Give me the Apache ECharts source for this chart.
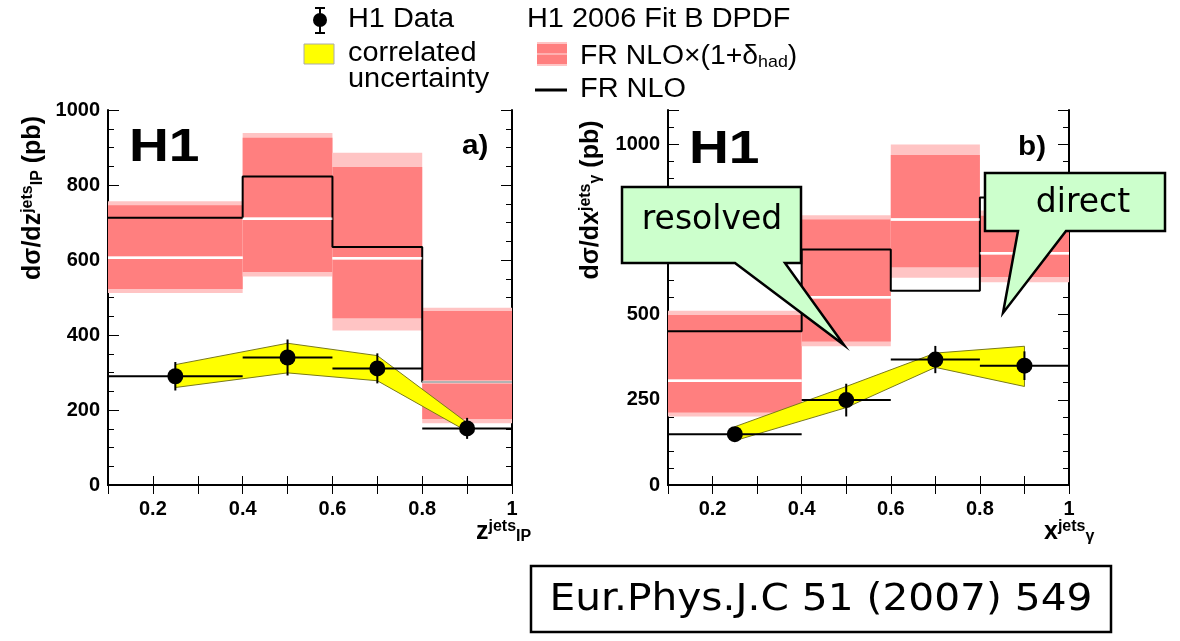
<!DOCTYPE html>
<html><head><meta charset="utf-8">
<script src="https://cdn.jsdelivr.net/npm/echarts@6/dist/echarts.min.js"></script>
<style>html,body{margin:0;padding:0;background:#fff}#c{width:1180px;height:641px}</style>
</head><body><div id="c"></div>
<script>
// ---------- data ----------
const binEdges = [0.1, 0.4, 0.6, 0.8, 1.0];
const binCenters = [0.25, 0.5, 0.7, 0.9];
const xTickLabels = ['0.2', '0.4', '0.6', '0.8', '1'];

// panel a) z_IP^jets
const zData = [290, 340, 311, 151];
const zErr = [38, 48, 40, 28];
const zCorrLow = [260, 299, 278, 143];
const zCorrHigh = [321, 378, 345, 166];
const zHadOuterLow = [512, 556, 412, 165];
const zHadOuterHigh = [757, 939, 886, 473];
const zHadInnerLow = [523, 568, 445, 176];
const zHadInnerHigh = [746, 926, 848, 464];
const zHadCentral = [606, 710, 605, 275];
const zNlo = [713, 823, 635, 275];

// panel b) x_gamma^jets
const xData = [149, 249, 368, 350];
const xErr = [12, 48, 40, 42];
const xCorrLow = [130, 227, 345, 289];
const xCorrHigh = [171, 289, 387, 407];
const xHadOuterLow = [201, 407, 608, 595];
const xHadOuterHigh = [511, 791, 999, 805];
const xHadInnerLow = [213, 421, 639, 610];
const xHadInnerHigh = [499, 779, 968, 790];
const xHadCentral = [306, 551, 779, 680];
const xNlo = [451, 691, 570, 843];

// ---------- helpers ----------
const FONT = 'Liberation Sans, Arial, sans-serif';
const panels = [
  {data: zData, err: zErr, cLo: zCorrLow, cHi: zCorrHigh, oLo: zHadOuterLow, oHi: zHadOuterHigh,
   iLo: zHadInnerLow, iHi: zHadInnerHigh, cen: zHadCentral, nlo: zNlo},
  {data: xData, err: xErr, cLo: xCorrLow, cHi: xCorrHigh, oLo: xHadOuterLow, oHi: xHadOuterHigh,
   iLo: xHadInnerLow, iHi: xHadInnerHigh, cen: xHadCentral, nlo: xNlo}
];

function bandSeries(p, idx) {
  const data = binCenters.map((c, i) => [binEdges[i], binEdges[i + 1], p.oLo[i], p.oHi[i], p.iLo[i], p.iHi[i]]);
  return {
    type: 'custom', coordinateSystem: 'cartesian2d', xAxisIndex: idx, yAxisIndex: idx, z: 1,
    silent: true, clip: true,
    data: data,
    encode: {x: [0, 1], y: [2, 3]},
    renderItem: (params, api) => {
      const a = api.coord([api.value(0), api.value(3)]);
      const b = api.coord([api.value(1), api.value(2)]);
      const c = api.coord([api.value(0), api.value(5)]);
      const d = api.coord([api.value(1), api.value(4)]);
      return {type: 'group', children: [
        {type: 'rect', shape: {x: a[0], y: a[1], width: b[0] - a[0], height: b[1] - a[1]}, style: {fill: '#ffc4c4'}},
        {type: 'rect', shape: {x: c[0], y: c[1], width: d[0] - c[0], height: d[1] - c[1]}, style: {fill: '#ff7f7f'}}
      ]};
    }
  };
}
function centralSeries(p, idx, opacity, z) {
  const data = binCenters.map((c, i) => [binEdges[i], binEdges[i + 1], p.cen[i]]);
  return {
    type: 'custom', coordinateSystem: 'cartesian2d', xAxisIndex: idx, yAxisIndex: idx, z: z, silent: true,
    data: data, encode: {x: [0, 1], y: 2},
    renderItem: (params, api) => {
      const a = api.coord([api.value(0), api.value(2)]);
      const b = api.coord([api.value(1), api.value(2)]);
      return {type: 'line', shape: {x1: a[0], y1: a[1], x2: b[0], y2: b[1]},
        style: {stroke: '#ffffff', lineWidth: 2.5, opacity: opacity}};
    }
  };
}
function nloSeries(p, idx) {
  const data = binEdges.map((e, i) => [e, p.nlo[Math.min(i, p.nlo.length - 1)]]);
  return {
    type: 'line', xAxisIndex: idx, yAxisIndex: idx, z: 3, step: 'end', symbol: 'none', silent: true,
    data: data, lineStyle: {color: '#000', width: 2}
  };
}
function corrSeries(p, idx) {
  return {
    type: 'custom', coordinateSystem: 'cartesian2d', xAxisIndex: idx, yAxisIndex: idx, z: 5, silent: true,
    data: [[binCenters[0], p.cLo[0]]],
    renderItem: (params, api) => {
      const pts = [];
      binCenters.forEach((c, i) => pts.push(api.coord([c, p.cHi[i]])));
      for (let i = binCenters.length - 1; i >= 0; i--) pts.push(api.coord([binCenters[i], p.cLo[i]]));
      return {type: 'polygon', shape: {points: pts}, style: {fill: '#ffff00', stroke: '#7a7a1a', lineWidth: 1}};
    }
  };
}
function barsSeries(p, idx) {
  const data = binCenters.map((c, i) => [c, p.data[i], p.err[i], binEdges[i], binEdges[i + 1]]);
  return {
    type: 'custom', coordinateSystem: 'cartesian2d', xAxisIndex: idx, yAxisIndex: idx, z: 6, silent: true,
    data: data, encode: {x: 0, y: 1},
    renderItem: (params, api) => {
      const x = api.value(0), y = api.value(1), e = api.value(2);
      const h0 = api.coord([api.value(3), y]), h1 = api.coord([api.value(4), y]);
      const v0 = api.coord([x, y - e]), v1 = api.coord([x, y + e]);
      return {type: 'group', children: [
        {type: 'line', shape: {x1: h0[0], y1: h0[1], x2: h1[0], y2: h1[1]}, style: {stroke: '#000', lineWidth: 2}},
        {type: 'line', shape: {x1: v0[0], y1: v0[1], x2: v1[0], y2: v1[1]}, style: {stroke: '#000', lineWidth: 2}}
      ]};
    }
  };
}
function pointSeries(p, idx) {
  return {
    type: 'scatter', xAxisIndex: idx, yAxisIndex: idx, z: 7, silent: true, symbol: 'circle', symbolSize: 16,
    itemStyle: {color: '#000', opacity: 1},
    data: binCenters.map((c, i) => [c, p.data[i]])
  };
}

const grids = [
  {left: 108, top: 110, width: 404, height: 375},
  {left: 668, top: 110, width: 401, height: 375}
];
const yMax = [1000, 1100];
const yInterval = [200, 250];
const ySplit = [4, 5];

const xAxes = [], yAxes = [];
[0, 1].forEach(g => {
  xAxes.push({
    type: 'value', gridIndex: g, position: 'bottom', min: 0.1, max: 1.0, interval: 0.1,
    axisLine: {lineStyle: {color: '#000', width: 2}},
    axisTick: {inside: true, length: 9, lineStyle: {color: '#000', width: 1}},
    splitLine: {show: false},
    axisLabel: {
      color: '#000', fontFamily: FONT, fontWeight: 'bold', fontSize: 20, margin: 14,
      formatter: v => { const k = Math.round(v * 10); return (k % 2 === 0) ? xTickLabels[k / 2 - 1] : ''; }
    }
  });
  xAxes.push({
    type: 'value', gridIndex: g, position: 'top', min: 0.1, max: 1.0, interval: 0.1,
    axisLine: {lineStyle: {color: '#000', width: 2}},
    axisTick: {inside: true, length: 9, lineStyle: {color: '#000', width: 1}},
    splitLine: {show: false}, axisLabel: {show: false}
  });
  yAxes.push({
    type: 'value', gridIndex: g, position: 'left', min: 0, max: yMax[g], interval: yInterval[g],
    axisLine: {show: true, lineStyle: {color: '#000', width: 2}},
    axisTick: {show: true, inside: true, length: 11, lineStyle: {color: '#000', width: 1}},
    minorTick: {show: true, splitNumber: ySplit[g], length: 6, lineStyle: {color: '#000', width: 1}},
    splitLine: {show: false},
    axisLabel: {
      color: '#000', fontFamily: FONT, fontWeight: 'bold', fontSize: 20, margin: 8,
      formatter: v => (v % yInterval[g] === 0 ? String(v) : '')
    }
  });
  yAxes.push({
    type: 'value', gridIndex: g, position: 'right', min: 0, max: yMax[g], interval: yInterval[g],
    axisLine: {show: true, lineStyle: {color: '#000', width: 2}},
    axisTick: {show: true, inside: true, length: 11, lineStyle: {color: '#000', width: 1}},
    minorTick: {show: true, splitNumber: ySplit[g], length: 6, lineStyle: {color: '#000', width: 1}},
    splitLine: {show: false}, axisLabel: {show: false}
  });
});

const series = [];
panels.forEach((p, k) => {
  const idx = k * 2; // bottom x axis / left y axis for this grid
  series.push(bandSeries(p, idx));
  series.push(centralSeries(p, idx, 1, 2));
  series.push(nloSeries(p, idx));
  series.push(centralSeries(p, idx, 0.7, 4));
  series.push(corrSeries(p, idx));
  series.push(barsSeries(p, idx));
  series.push(pointSeries(p, idx));
});

const T = (x, y, text, size, extra, sx) => ({
  type: 'text', x: x, y: y, z: 120, scaleX: sx || 1,
  style: Object.assign({text: text, fontFamily: FONT, fontSize: size, fill: '#000', align: 'left', verticalAlign: 'middle'}, extra || {})
});

const richY = {
  b: {fontFamily: FONT, fontWeight: 'bold', fontSize: 25, fill: '#000'},
  s: {fontFamily: FONT, fontWeight: 'bold', fontSize: 16, fill: '#000', verticalAlign: 'top', padding: [0, 0, 10, 0]},
  i: {fontFamily: FONT, fontWeight: 'bold', fontSize: 16, fill: '#000', verticalAlign: 'bottom'}
};

const graphic = [
  // legend
  {type: 'line', z: 100, shape: {x1: 320, y1: 7, x2: 320, y2: 34}, style: {stroke: '#000', lineWidth: 2}},
  {type: 'line', z: 100, shape: {x1: 315, y1: 8, x2: 325, y2: 8}, style: {stroke: '#000', lineWidth: 2}},
  {type: 'line', z: 100, shape: {x1: 315, y1: 33, x2: 325, y2: 33}, style: {stroke: '#000', lineWidth: 2}},
  {type: 'circle', z: 101, shape: {cx: 320, cy: 20, r: 7}, style: {fill: '#000'}},
  T(348, 20, 'H1 Data', 27, null, 1.07),
  {type: 'rect', z: 100, shape: {x: 304, y: 44, width: 30, height: 20}, style: {fill: '#ffff00', stroke: '#aaa', lineWidth: 1}},
  T(348, 54, 'correlated', 27, null, 1.07),
  T(348, 80, 'uncertainty', 27, null, 1.07),
  T(527, 20, 'H1 2006 Fit B DPDF', 27, null, 1.07),
  {type: 'rect', z: 100, shape: {x: 537, y: 42, width: 30, height: 24}, style: {fill: '#ffc4c4'}},
  {type: 'rect', z: 100, shape: {x: 537, y: 44, width: 30, height: 20}, style: {fill: '#ff7f7f'}},
  {type: 'line', z: 101, shape: {x1: 537, y1: 54, x2: 567, y2: 54}, style: {stroke: '#ffb0b0', lineWidth: 2}},
  {type: 'text', x: 580, y: 57, z: 120, scaleX: 1.05, style: {
    text: '{n|FR NLO×(1+δ}{s|had}{n|)}', verticalAlign: 'middle', align: 'left',
    rich: {n: {fontFamily: FONT, fontSize: 27, fill: '#000'},
           s: {fontFamily: FONT, fontSize: 17, fill: '#000', verticalAlign: 'bottom'}}}},
  {type: 'line', z: 100, shape: {x1: 535, y1: 90, x2: 567, y2: 90}, style: {stroke: '#000', lineWidth: 3}},
  T(580, 90, 'FR NLO', 27, null, 1.07),

  // panel labels
  T(129, 148, 'H1', 46, {fontWeight: 'bold'}, 1.2),
  T(462, 147, 'a)', 27, {fontWeight: 'bold'}, 1.1),
  T(689, 150, 'H1', 46, {fontWeight: 'bold'}, 1.2),
  T(1018, 148, 'b)', 27, {fontWeight: 'bold'}, 1.1),

  // y-axis titles
  {type: 'text', x: 33, y: 198, rotation: Math.PI / 2, z: 120, style: {
    text: '{b|dσ/dz}{s|jets}{i|IP}{b| (pb)}', align: 'center', verticalAlign: 'middle', rich: richY}},
  {type: 'text', x: 591, y: 200, rotation: Math.PI / 2, z: 120, style: {
    text: '{b|dσ/dx}{s|jets}{i|γ}{b| (pb)}', align: 'center', verticalAlign: 'middle', rich: richY}},
  // x-axis titles
  {type: 'text', x: 476, y: 532, z: 120, style: {
    text: '{b|z}{s|jets}{i|IP}', align: 'left', verticalAlign: 'middle', rich: richY}},
  {type: 'text', x: 1044, y: 532, z: 120, style: {
    text: '{b|x}{s|jets}{i|γ}', align: 'left', verticalAlign: 'middle', rich: richY}},

  // callouts
  {type: 'polygon', z: 110, shape: {points: [[622, 187], [801, 187], [801, 263], [785, 263], [844, 345], [735, 263], [622, 263]]},
   style: {fill: '#ccffcc', stroke: '#000', lineWidth: 2.5}},
  T(712, 220, 'resolved', 33, {align: 'center', fontFamily: 'DejaVu Sans'}),
  {type: 'polygon', z: 110, shape: {points: [[985, 173], [1165, 173], [1165, 231], [1066, 231], [1003, 313], [1018, 231], [985, 231]]},
   style: {fill: '#ccffcc', stroke: '#000', lineWidth: 2.5}},
  T(1083, 203, 'direct', 33, {align: 'center', fontFamily: 'DejaVu Sans'}),

  // citation
  {type: 'rect', z: 100, shape: {x: 531, y: 566, width: 580, height: 66}, style: {fill: '#fff', stroke: '#000', lineWidth: 2.5}},
  T(821, 600, 'Eur.Phys.J.C 51 (2007) 549', 37, {align: 'center', fontFamily: 'DejaVu Sans'}, 1.1)
];

const chart = echarts.init(document.getElementById('c'), null, {renderer: 'canvas'});
chart.setOption({
  animation: false,
  backgroundColor: '#fff',
  grid: grids,
  xAxis: xAxes,
  yAxis: yAxes,
  series: series,
  graphic: graphic
});
</script>
</body></html>
